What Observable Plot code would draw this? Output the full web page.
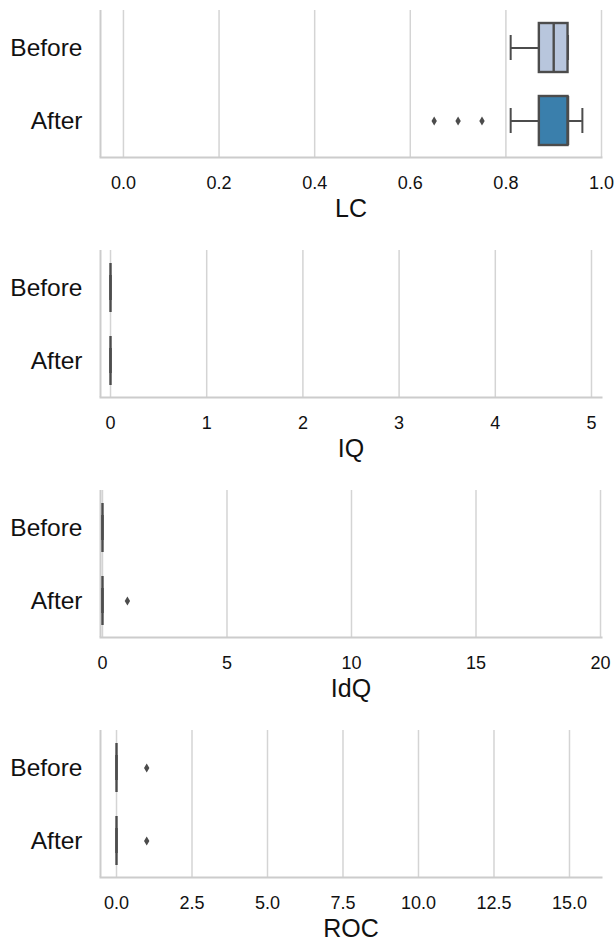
<!DOCTYPE html>
<html>
<head>
<meta charset="utf-8">
<script src="https://cdn.jsdelivr.net/npm/d3@7"></script>
<script src="https://cdn.jsdelivr.net/npm/@observablehq/plot@0.6"></script>
<style>
  body { margin: 0; background: #fff; }
  #chart { width: 615px; }
  #chart svg { display: block; }
</style>
</head>
<body>
<div id="chart"></div>
<script>
// ---- data ----
const groups = ["Before", "After"];
const metrics = ["LC", "IQ", "IdQ", "ROC"];

// box summaries per metric: [Before, After]
const whiskerLow  = { LC: [0.81, 0.81], IQ: [0, 0], IdQ: [0, 0], ROC: [0, 0] };
const quart1      = { LC: [0.87, 0.87], IQ: [0, 0], IdQ: [0, 0], ROC: [0, 0] };
const medians     = { LC: [0.90, 0.93], IQ: [0, 0], IdQ: [0, 0], ROC: [0, 0] };
const quart3      = { LC: [0.93, 0.93], IQ: [0, 0], IdQ: [0, 0], ROC: [0, 0] };
const whiskerHigh = { LC: [0.93, 0.96], IQ: [0, 0], IdQ: [0, 0], ROC: [0, 0] };

// outliers: [group, value]
const outliersLC  = [["After", 0.65], ["After", 0.70], ["After", 0.75]];
const outliersIQ  = [];
const outliersIdQ = [["After", 1]];
const outliersROC = [["Before", 1], ["After", 1]];
const outliers = { LC: outliersLC, IQ: outliersIQ, IdQ: outliersIdQ, ROC: outliersROC };

// x axis domains and ticks
const xDomains = { LC: [-0.048, 1.0], IQ: [-0.104, 5.104], IdQ: [-0.08, 20.04], ROC: [-0.53, 16.06] };
const xTicks = {
  LC: [0, 0.2, 0.4, 0.6, 0.8, 1.0],
  IQ: [0, 1, 2, 3, 4, 5],
  IdQ: [0, 5, 10, 15, 20],
  ROC: [0, 2.5, 5, 7.5, 10, 12.5, 15]
};
const xFormats = { LC: ".1f", IQ: "d", IdQ: "d", ROC: ".1f" };

const fills = { Before: "#b8c6dd", After: "#3a7fac" };
const edge = "#4c4c4c";
const gridColor = "#d4d4d4";
const spineColor = "#cccccc";
const font = "'Liberation Sans', Arial, sans-serif";

// thin diamond symbol (like matplotlib "d")
const thinDiamond = {
  draw(ctx, size) {
    const r = Math.sqrt(size / Math.PI);
    const h = r, w = r * 0.6;
    ctx.moveTo(0, -h); ctx.lineTo(w, 0); ctx.lineTo(0, h); ctx.lineTo(-w, 0); ctx.closePath();
  }
};

const container = document.getElementById("chart");

metrics.forEach((m, idx) => {
  const rows = groups.map((g, i) => ({
    group: g,
    lo: whiskerLow[m][i], q1: quart1[m][i], med: medians[m][i], q3: quart3[m][i], hi: whiskerHigh[m][i]
  }));
  const outs = outliers[m].map(([g, v]) => ({ group: g, value: v }));
  const last = idx === metrics.length - 1;
  const chart = Plot.plot({
    width: 615,
    height: last ? 227 : 240,
    marginTop: 10,
    marginBottom: last ? 70 : 83,
    marginLeft: 100,
    marginRight: 14,
    style: { fontFamily: font, fontSize: "18px", color: "#111", background: "#fff", overflow: "visible" },
    x: { domain: xDomains[m], ticks: xTicks[m] },
    y: { domain: groups, paddingInner: 0.33, paddingOuter: 0.165 },
    marks: [
      Plot.gridX(xTicks[m], { stroke: gridColor, strokeOpacity: 1, strokeWidth: 1.5 }),
      Plot.frame({ anchor: "bottom", stroke: spineColor, strokeWidth: 2 }),
      Plot.ruleX([xDomains[m][0]], { stroke: spineColor, strokeWidth: 2 }),
      Plot.axisX({ ticks: xTicks[m], tickFormat: d3.format(xFormats[m]), tickSize: 0, tickPadding: 19, fontSize: 18, label: null }),
      Plot.axisY({ tickSize: 0, tickPadding: 18, fontSize: 24.5, label: null }),
      Plot.text([m], { frameAnchor: "bottom", dy: 59, fontSize: 25, fill: "#111" }),
      // whiskers
      Plot.ruleY(rows, { y: "group", x1: "lo", x2: "q1", stroke: edge, strokeWidth: 2 }),
      Plot.ruleY(rows, { y: "group", x1: "q3", x2: "hi", stroke: edge, strokeWidth: 2 }),
      Plot.tickX(rows, { y: "group", x: "lo", stroke: edge, strokeWidth: 2, insetTop: 12, insetBottom: 12 }),
      Plot.tickX(rows, { y: "group", x: "hi", stroke: edge, strokeWidth: 2, insetTop: 12, insetBottom: 12 }),
      // boxes
      Plot.barX(rows, { y: "group", x1: "q1", x2: "q3", fill: d => fills[d.group], stroke: edge, strokeWidth: 2.4 }),
      Plot.tickX(rows, { y: "group", x: "med", stroke: edge, strokeWidth: 2.4 }),
      // outliers
      Plot.dot(outs, { y: "group", x: "value", symbol: thinDiamond, r: 4.5, fill: edge, stroke: null })
    ]
  });
  container.appendChild(chart);
});
</script>
</body>
</html>
